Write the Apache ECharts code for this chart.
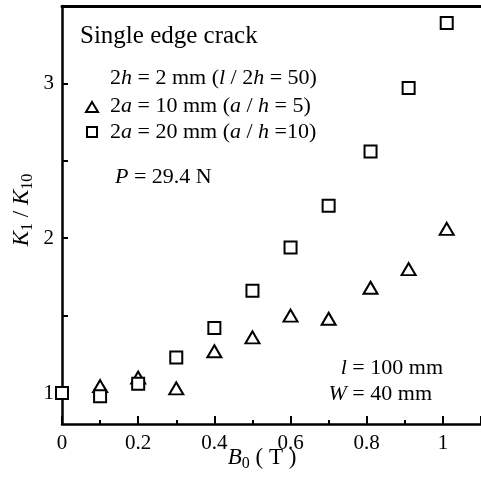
<!DOCTYPE html>
<html><head><meta charset="utf-8">
<script src="https://cdn.jsdelivr.net/npm/echarts@6/dist/echarts.min.js"></script>
<style>html,body{margin:0;padding:0;background:#fff}#c{width:481px;height:482px}</style>
</head><body><div id="c"></div>
<script>
const xTri = [0.1, 0.2, 0.3, 0.4, 0.5, 0.6, 0.7, 0.81, 0.91, 1.01];
const yTri = [1.045, 1.10, 1.03, 1.27, 1.36, 1.50, 1.48, 1.68, 1.80, 2.06];
const xSq = [0, 0.1, 0.2, 0.3, 0.4, 0.5, 0.6, 0.7, 0.81, 0.91, 1.01];
const ySq = [1.0, 0.98, 1.06, 1.23, 1.42, 1.66, 1.94, 2.21, 2.56, 2.97, 3.39];
const xTickLabels = [0, 0.2, 0.4, 0.6, 0.8, 1];
const yTickLabels = [1, 2, 3];
const yTickValues = [1, 1.5, 2, 2.5, 3];

const FF = 'Liberation Serif';
function mkRich(fs) {
  return {
    n: {fontFamily: FF, fontSize: fs, color: '#000', lineHeight: fs + 4},
    i: {fontFamily: FF, fontSize: fs, fontStyle: 'italic', color: '#000', lineHeight: fs + 4},
    sub: {fontFamily: FF, fontSize: Math.round(fs * 0.68), color: '#000', lineHeight: 12, verticalAlign: 'bottom'}
  };
}
function txt(text, x, y, align, fs) {
  fs = fs || 22;
  return {type: 'text', z: 100, style: {text: text, x: x, y: y, rich: mkRich(fs), fontFamily: FF, fontSize: fs,
    textAlign: align || 'left', textVerticalAlign: 'middle', fill: '#000'}};
}

const chart = echarts.init(document.getElementById('c'), null, {renderer: 'canvas'});
const axisFont = {fontFamily: FF, fontSize: 21, color: '#000'};
chart.setOption({
  animation: false,
  backgroundColor: '#fff',
  grid: {left: 62, right: -4.5, top: 6, bottom: 58, containLabel: false},
  xAxis: [{
    type: 'value', min: 0, max: 1.1, interval: 0.2, position: 'bottom',
    axisLine: {show: true, lineStyle: {color: '#000', width: 2.5}},
    axisTick: {show: true, inside: true, length: 8, lineStyle: {color: '#000', width: 2}},
    minorTick: {show: true, splitNumber: 2, length: 4, lineStyle: {color: '#000', width: 2}},
    splitLine: {show: false}, minorSplitLine: {show: false},
    axisLabel: {...axisFont, margin: 9, showMaxLabel: false,
      formatter: v => xTickLabels.some(t => Math.abs(t - v) < 1e-6) ? String(+v.toFixed(1)) : ''}
  }, {
    type: 'value', min: 0, max: 1.1, position: 'top',
    axisLine: {show: true, lineStyle: {color: '#000', width: 3}},
    axisTick: {show: false}, axisLabel: {show: false}, splitLine: {show: false}
  }],
  yAxis: {
    type: 'value', min: 0.8, max: 3.5,
    axisLine: {show: true, lineStyle: {color: '#000', width: 2.5}},
    axisTick: {show: true, inside: true, length: 6, customValues: yTickValues, lineStyle: {color: '#000', width: 2}},
    axisLabel: {...axisFont, margin: 8, customValues: yTickLabels},
    splitLine: {show: false}
  },
  series: [{
    type: 'scatter', name: 'tri', clip: false,
    data: xTri.map((x, k) => [x, yTri[k]]),
    symbol: 'triangle', symbolSize: [14, 12],
    itemStyle: {color: '#fff', borderColor: '#000', borderWidth: 2, opacity: 1}
  }, {
    type: 'scatter', name: 'sq', clip: false,
    data: xSq.map((x, k) => [x, ySq[k]]),
    symbol: 'rect', symbolSize: 12,
    itemStyle: {color: '#fff', borderColor: '#000', borderWidth: 2, opacity: 1}
  }],
  graphic: [
    txt('{n|Single edge crack}', 80, 36, 'left', 25),
    txt('{n|2}{i|h}{n| = 2 mm (}{i|l}{n| / 2}{i|h}{n| = 50)}', 110, 78, 'left', 22),
    {type: 'polygon', z: 100, shape: {points: [[86, 112], [98, 112], [92, 102]]}, style: {fill: '#fff', stroke: '#000', lineWidth: 2}},
    txt('{n|2}{i|a}{n| = 10 mm (}{i|a}{n| / }{i|h}{n| = 5)}', 110, 106, 'left', 22),
    {type: 'rect', z: 100, shape: {x: 87, y: 127, width: 10, height: 10}, style: {fill: '#fff', stroke: '#000', lineWidth: 2}},
    txt('{n|2}{i|a}{n| = 20 mm (}{i|a}{n| / }{i|h}{n| =10)}', 110, 132, 'left', 22),
    txt('{i|P}{n| = 29.4 N}', 115, 177, 'left', 22),
    txt('{i|l}{n| = 100 mm}', 443, 368, 'right', 22),
    txt('{i|W}{n| = 40 mm}', 432, 394, 'right', 22),
    txt('{i|B}{sub|0}{n| ( T )}', 262, 458, 'center', 23),
    Object.assign(txt('{i|K}{sub|1}{n| / }{i|K}{sub|10}', 0, 0, 'center', 23), {x: 22, y: 210, rotation: Math.PI / 2})
  ]
});
</script></body></html>
